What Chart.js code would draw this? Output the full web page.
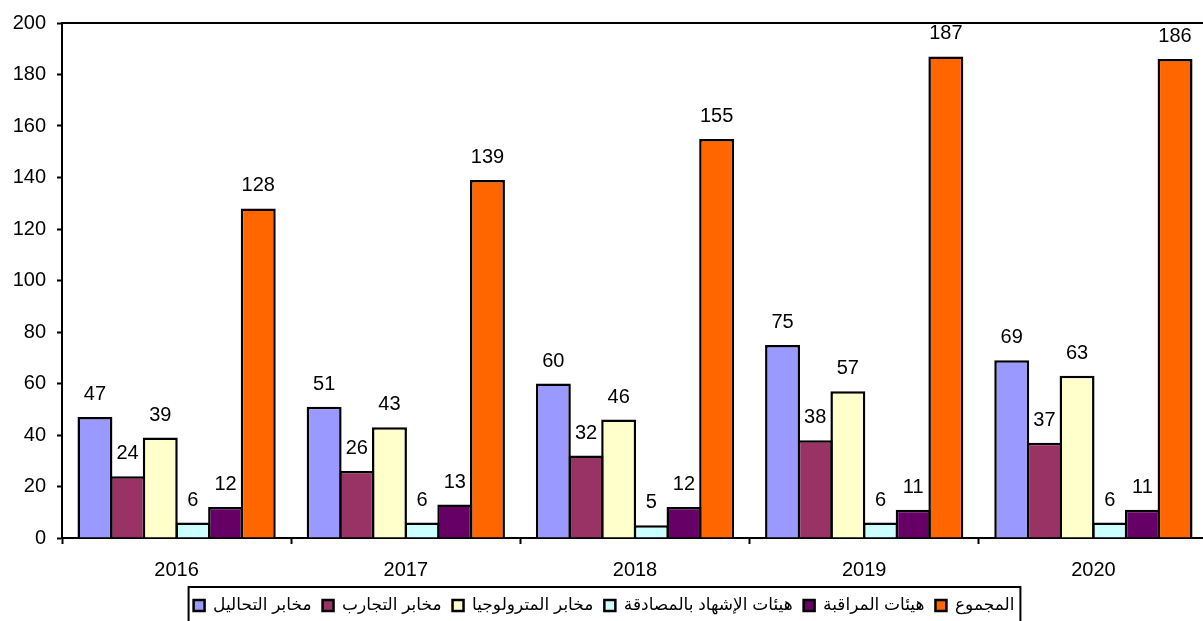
<!DOCTYPE html>
<html>
<head>
<meta charset="utf-8">
<script src="https://cdn.jsdelivr.net/npm/chart.js@4"></script>
<style>
    html, body { margin: 0; padding: 0; background: #ffffff; overflow: hidden; }
    #graficoCanvas { display: block; }
</style>
</head>
<body>
<canvas id="graficoCanvas" width="1212" height="640"></canvas>
<script>
let anos = ['2016', '2017', '2018', '2019', '2020']
let nomesSeries = ['مخابر التحاليل', 'مخابر التجارب', 'مخابر المترولوجيا', 'هيئات الإشهاد بالمصادقة', 'هيئات المراقبة', 'المجموع']
let mabarTahalil = [47, 51, 60, 75, 69]
let mabarTajarib = [24, 26, 32, 38, 37]
let mabarMetrologia = [39, 43, 46, 57, 63]
let hayaatIshhad = [6, 6, 5, 6, 6]
let hayaatMuraqaba = [12, 13, 12, 11, 11]
let majmou = [128, 139, 155, 187, 186]
let ticksY = [0, 20, 40, 60, 80, 100, 120, 140, 160, 180, 200]

let cores = ['#9999FF', '#993366', '#FFFFCC', '#CCFFFF', '#660066', '#FF6600']
let fonte = 'Arial, "Liberation Sans", "DejaVu Sans", sans-serif'

// linha de cima da area do grafico (moldura)
const chartAreaBorder = {
    id: 'chartAreaBorder',
    afterDraw(chart) {
        const { ctx, chartArea: { left, top, right, bottom } } = chart
        ctx.save()
        ctx.strokeStyle = '#000000'
        ctx.lineWidth = 2
        ctx.beginPath()
        ctx.moveTo(left, top)
        ctx.lineTo(right, top)
        ctx.lineTo(right, bottom)
        ctx.stroke()
        ctx.restore()
    }
}

// valores em cima das barras
const rotulosBarras = {
    id: 'rotulosBarras',
    afterDatasetsDraw(chart) {
        const ctx = chart.ctx
        ctx.save()
        ctx.fillStyle = '#000000'
        ctx.font = '20px ' + fonte
        ctx.textAlign = 'center'
        ctx.textBaseline = 'alphabetic'
        chart.data.datasets.forEach(function (ds, i) {
            let meta = chart.getDatasetMeta(i)
            meta.data.forEach(function (bar, j) {
                ctx.fillText(ds.data[j], bar.x, bar.y - 17)
            })
        })
        ctx.restore()
    }
}

// caixa em volta da legenda
const bordaLegenda = {
    id: 'bordaLegenda',
    afterDraw(chart) {
        const legenda = chart.legend
        if (!legenda || !legenda.legendHitBoxes.length) return
        let caixas = legenda.legendHitBoxes
        let esquerda = Math.min(...caixas.map(x => x.left)) - 5
        let direita = Math.max(...caixas.map(x => x.left + x.width)) + 6
        const ctx = chart.ctx
        ctx.save()
        ctx.strokeStyle = '#000000'
        ctx.lineWidth = 2
        ctx.strokeRect(esquerda, legenda.top + 1, direita - esquerda, 60)
        ctx.restore()
    }
}

function criarGrafico() {
    let valores = [mabarTahalil, mabarTajarib, mabarMetrologia, hayaatIshhad, hayaatMuraqaba, majmou]
    let datasets = []
    for (let i = 0; i < valores.length; i++) {
        datasets.push({
            label: nomesSeries[i],
            data: valores[i],
            backgroundColor: cores[i],
            borderColor: '#000000',
            borderWidth: 2.5,
            borderSkipped: 'start',
            categoryPercentage: 0.855,
            barPercentage: 1.07
        })
    }

    new Chart(document.getElementById('graficoCanvas'), {
        type: 'bar',
        data: {
            labels: anos,
            datasets: datasets
        },
        options: {
            responsive: false,
            animation: false,
            devicePixelRatio: 1,
            layout: {
                padding: { left: 0, right: 4, top: 22, bottom: 16 }
            },
            plugins: {
                legend: {
                    position: 'bottom',
                    labels: {
                        color: '#000000',
                        boxWidth: 11,
                        boxHeight: 11,
                        padding: 11,
                        font: { size: 17, family: fonte }
                    }
                },
                tooltip: { enabled: false }
            },
            scales: {
                x: {
                    afterFit: function (scale) { scale.height = 48 },
                    border: { color: '#000000', width: 2 },
                    grid: {
                        display: true,
                        drawOnChartArea: false,
                        drawTicks: true,
                        tickLength: 6,
                        tickColor: '#000000',
                        tickWidth: 2
                    },
                    ticks: {
                        color: '#000000',
                        padding: 14,
                        font: { size: 20, family: fonte }
                    }
                },
                y: {
                    min: 0,
                    max: 200,
                    afterFit: function (scale) { scale.width = 62 },
                    afterBuildTicks: function (scale) { scale.ticks = ticksY.map(v => ({ value: v })) },
                    border: { color: '#000000', width: 2 },
                    grid: {
                        display: true,
                        drawOnChartArea: false,
                        drawTicks: true,
                        tickLength: 5,
                        tickColor: '#000000',
                        tickWidth: 2
                    },
                    ticks: {
                        color: '#000000',
                        padding: 11,
                        font: { size: 20, family: fonte }
                    }
                }
            }
        },
        plugins: [chartAreaBorder, rotulosBarras, bordaLegenda]
    })
}

criarGrafico()
</script>
</body>
</html>
